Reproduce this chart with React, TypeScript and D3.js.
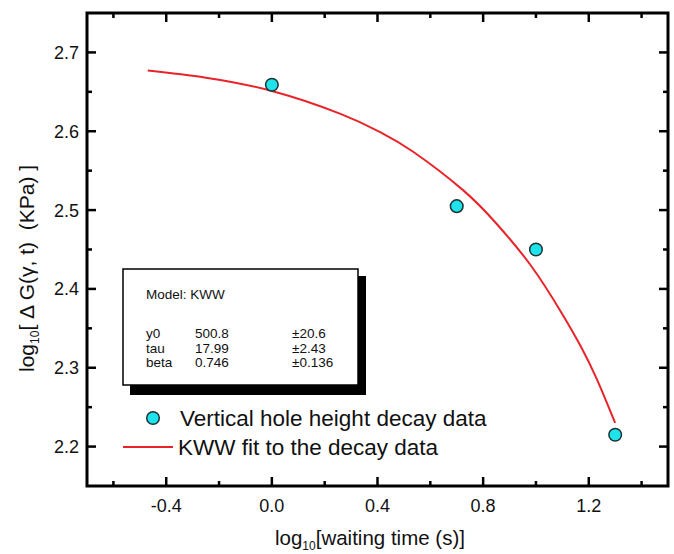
import React from "react";
import * as d3 from "d3";

// measured points
const dataX = [0.0, 0.7, 1.0, 1.3];
const dataY = [2.659, 2.505, 2.45, 2.215];

// KWW fit curve
const fitX = [-0.47, -0.25, 0.0, 0.26, 0.41, 0.535, 0.725, 0.85, 0.98, 1.1, 1.17, 1.23, 1.3];
const fitY = [2.677, 2.668, 2.651, 2.622, 2.599, 2.574, 2.525, 2.483, 2.43, 2.368, 2.327, 2.286, 2.23];

const xMajor = [-0.4, 0.0, 0.4, 0.8, 1.2];
const xMinor = [-0.6, -0.2, 0.2, 0.6, 1.0, 1.4];
const yMajor = [2.2, 2.3, 2.4, 2.5, 2.6, 2.7];
const yMinor = [2.25, 2.35, 2.45, 2.55, 2.65];

const statRows = [
  ["y0", "500.8", "\u00b120.6"],
  ["tau", "17.99", "\u00b12.43"],
  ["beta", "0.746", "\u00b10.136"],
];
const legendLabels = ["Vertical hole height decay data", "KWW fit to the decay data"];

const width = 674;
const height = 554;
const left = 87;
const right = 668;
const top = 13;
const bottom = 486;
const font = "'Liberation Sans', Arial, Helvetica, sans-serif";

export default function App() {
  const x = d3.scaleLinear().domain([-0.7, 1.5]).range([left, right]);
  const y = d3.scaleLinear().domain([2.15, 2.75]).range([bottom, top]);

  const fitLine = d3
    .line<number>()
    .x((d, i) => x(fitX[i]))
    .y((d) => y(d))
    .curve(d3.curveNatural);

  const major = 9;
  const minor = 5;

  return (
    <div style={{ position: "absolute", left: 0, top: 0 }}>
      <svg width={width} height={height} style={{ display: "block", background: "#fff" }} fontFamily={font}>
        {/* fit curve */}
        <path d={fitLine(fitY) || ""} fill="none" stroke="#e8242a" strokeWidth={2} />

        {/* data points */}
        {dataX.map((d, i) => (
          <circle key={i} cx={x(d)} cy={y(dataY[i])} r={6.3} fill="#1fe3ea" stroke="#1d3335" strokeWidth={1.5} />
        ))}

        {/* stats box */}
        <rect x={130} y={276} width={236} height={119} fill="#000" />
        <rect x={123} y={269} width={235} height={116} fill="#fff" stroke="#000" strokeWidth={1.5} />
        <g fontSize={13.5} fill="#111">
          <text x={146} y={299}>Model: KWW</text>
          {statRows.map((r, i) => (
            <g key={i}>
              <text x={146} y={338 + i * 14.5}>{r[0]}</text>
              <text x={195} y={338 + i * 14.5}>{r[1]}</text>
              <text x={292} y={338 + i * 14.5}>{r[2]}</text>
            </g>
          ))}
        </g>

        {/* legend */}
        <circle cx={153} cy={418} r={6.3} fill="#1fe3ea" stroke="#1d3335" strokeWidth={1.5} />
        <text x={180} y={426} fontSize={22.5} fill="#111">{legendLabels[0]}</text>
        <line x1={123} x2={173} y1={447} y2={447} stroke="#e8242a" strokeWidth={2} />
        <text x={178} y={455} fontSize={22.5} fill="#111">{legendLabels[1]}</text>

        {/* frame */}
        <rect x={left} y={top} width={right - left} height={bottom - top} fill="none" stroke="#000" strokeWidth={3} />

        {/* x ticks top & bottom */}
        {xMajor.map((t) => (
          <g key={"xm" + t}>
            <line x1={x(t)} x2={x(t)} y1={bottom} y2={bottom - major} stroke="#000" strokeWidth={2.5} />
            <line x1={x(t)} x2={x(t)} y1={top} y2={top + major} stroke="#000" strokeWidth={2.5} />
            <text x={x(t)} y={512} fontSize={18} textAnchor="middle" fill="#111">
              {d3.format(".1f")(t).replace("\u2212", "-")}
            </text>
          </g>
        ))}
        {xMinor.map((t) => (
          <g key={"xn" + t}>
            <line x1={x(t)} x2={x(t)} y1={bottom} y2={bottom - minor} stroke="#000" strokeWidth={2.5} />
            <line x1={x(t)} x2={x(t)} y1={top} y2={top + minor} stroke="#000" strokeWidth={2.5} />
          </g>
        ))}

        {/* y ticks left & right */}
        {yMajor.map((t) => (
          <g key={"ym" + t}>
            <line x1={left} x2={left + major} y1={y(t)} y2={y(t)} stroke="#000" strokeWidth={2.5} />
            <line x1={right} x2={right - major} y1={y(t)} y2={y(t)} stroke="#000" strokeWidth={2.5} />
            <text x={79} y={y(t) + 6.5} fontSize={18} textAnchor="end" fill="#111">
              {d3.format(".1f")(t)}
            </text>
          </g>
        ))}
        {yMinor.map((t) => (
          <g key={"yn" + t}>
            <line x1={left} x2={left + minor} y1={y(t)} y2={y(t)} stroke="#000" strokeWidth={2.5} />
            <line x1={right} x2={right - minor} y1={y(t)} y2={y(t)} stroke="#000" strokeWidth={2.5} />
          </g>
        ))}

        {/* axis titles */}
        <text x={275} y={545} fontSize={20.5} fill="#111">
          log<tspan fontSize={12} dy={5}>10</tspan>
          <tspan dy={-5}>[waiting time (s)]</tspan>
        </text>
        <text transform="translate(34,372) rotate(-90)" fontSize={21} fill="#111">
          log<tspan fontSize={12} dy={5}>10</tspan>
          <tspan dy={-5}>{"[ \u0394 G(\u03b3, t)\u00a0\u00a0(KPa) ]"}</tspan>
        </text>
      </svg>
    </div>
  );
}
